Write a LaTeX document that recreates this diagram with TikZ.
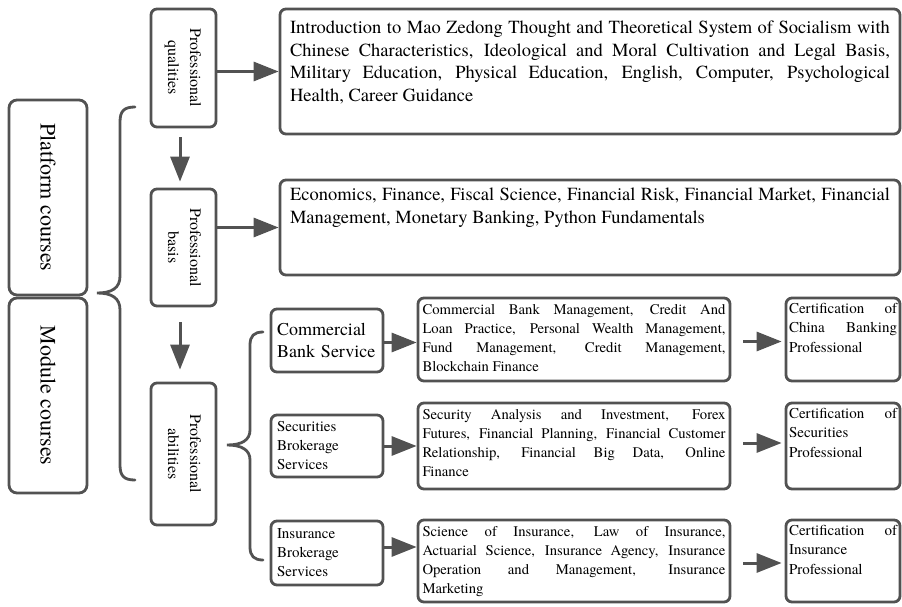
\documentclass[tikz,border=0pt]{standalone}
\usepackage{fontspec}
\setmainfont{TeX Gyre Termes}
\usepackage{tikz}
\usetikzlibrary{arrows.meta}
\definecolor{linegray}{RGB}{82,82,82}
\newcommand{\toptext}[3]{\parbox[c][#2][t]{#1}{#3}}

\begin{document}
\begin{tikzpicture}[x=1pt,y=-1pt,
	box/.style={draw=linegray, line width=2.8pt, rounded corners=6pt, inner sep=0pt},
	arr/.style={draw=linegray, line width=3pt, -{Triangle[length=25pt,width=19pt]}},
	brace/.style={draw=linegray, line width=2.8pt, line cap=round}]
			\useasboundingbox (0,0) rectangle (902,606);
			% left column
			\node[box, minimum width=78pt, minimum height=195pt, rounded corners=8pt,
				font=\fontsize{22}{26}\selectfont] (platform) at (48,197.5)
				{\rotatebox{-90}{Platform courses}};
			\node[box, minimum width=78pt, minimum height=195pt, rounded corners=8pt,
				font=\fontsize{22}{26}\selectfont] (module) at (48,395.5)
				{\rotatebox{-90}{Module courses}};
			% professional column
			\node[box, minimum width=65pt, minimum height=118pt,
				font=\fontsize{16}{22}\selectfont] (qual) at (183.5,68)
				{\rotatebox{-90}{\begin{tabular}{@{}c@{}}Professional\\qualities\end{tabular}}};
			\node[box, minimum width=65pt, minimum height=117pt,
				font=\fontsize{16}{22}\selectfont] (basis) at (183.5,247.5)
				{\rotatebox{-90}{\begin{tabular}{@{}c@{}}Professional\\basis\end{tabular}}};
			\node[box, minimum width=65pt, minimum height=142pt,
				font=\fontsize{16}{22}\selectfont] (abil) at (183.5,454)
				{\rotatebox{-90}{\begin{tabular}{@{}c@{}}Professional\\abilities\end{tabular}}};
			% course lists
			\node[box, inner xsep=10pt, inner ysep=12pt,
				font=\fontsize{18.5}{22.5}\selectfont] (intro) at (590,71.5)
				{\toptext{600pt}{101pt}{Introduction to Mao Zedong Thought and Theoretical System of Socialism with\linebreak
				Chinese Characteristics, Ideological and Moral Cultivation and Legal Basis,\linebreak
				Military Education, Physical Education, English, Computer, Psychological\linebreak
				Health, Career Guidance}};
			\node[box, inner xsep=10pt, inner ysep=8pt,
				font=\fontsize{18.5}{22.5}\selectfont] (fin) at (590,227.5)
				{\toptext{600pt}{79pt}{Economics, Finance, Fiscal Science, Financial Risk, Financial Market, Financial\linebreak
				Management, Monetary Banking, Python Fundamentals}};
			% modules
			\node[box, minimum width=112pt, minimum height=63pt, inner xsep=6pt,
				text width=100pt, align=left, font=\fontsize{18}{22}\selectfont] (comm) at (327,340.5)
				{Commercial\\Bank Service};
			\node[box, minimum width=112pt, minimum height=62pt, inner xsep=6pt,
				text width=100pt, align=left, font=\fontsize{15}{19}\selectfont] (sec) at (327,446)
				{Securities\\Brokerage\\Services};
			\node[box, minimum width=112pt, minimum height=64pt, inner xsep=6pt,
				text width=100pt, align=left, font=\fontsize{15}{19}\selectfont] (ins) at (327,553)
				{Insurance\\Brokerage\\Services};
			\node[box, inner xsep=4.5pt, inner ysep=6pt,
				font=\fontsize{14.7}{19}\selectfont] (bankc) at (574,339.5)
				{\toptext{303pt}{71pt}{Commercial Bank Management, Credit And\linebreak
				Loan Practice, Personal Wealth Management,\linebreak
				Fund Management, Credit Management,\linebreak
				Blockchain Finance}};
			\node[box, inner xsep=4.5pt, inner ysep=6pt,
				font=\fontsize{14.7}{19}\selectfont] (secc) at (574,446)
				{\toptext{303pt}{74pt}{Security Analysis and Investment, Forex\linebreak
				Futures, Financial Planning, Financial Customer\linebreak
				Relationship, Financial Big Data, Online\linebreak
				Finance}};
			\node[box, inner xsep=4.5pt, inner ysep=6pt,
				font=\fontsize{14.7}{19}\selectfont] (insc) at (574,561)
				{\toptext{303pt}{70pt}{Science of Insurance, Law of Insurance,\linebreak
				Actuarial Science, Insurance Agency, Insurance\linebreak
				Operation and Management, Insurance\linebreak
				Marketing}};
			% certificates
			\node[box, inner xsep=3pt, inner ysep=5pt,
				font=\fontsize{15}{19.5}\selectfont] (bankcert) at (843,339.5)
				{\toptext{108pt}{73pt}{Certification of\linebreak China Banking\linebreak Professional}};
			\node[box, inner xsep=3pt, inner ysep=5pt,
				font=\fontsize{15}{19.5}\selectfont] (seccert) at (843,446)
				{\toptext{108pt}{76pt}{Certification of\linebreak Securities\linebreak Professional}};
			\node[box, inner xsep=3pt, inner ysep=5pt,
				font=\fontsize{15}{19.5}\selectfont] (inscert) at (843,561)
				{\toptext{108pt}{72pt}{Certification of\linebreak Insurance\linebreak Professional}};
			% braces
			\draw[brace] (135,107) .. controls (124,107) and (120,111) .. (120,122) -- (120,276)
				.. controls (120,288) and (112,293) .. (97,293)
				.. controls (112,293) and (120,298) .. (120,310) -- (120,465)
				.. controls (120,476) and (124,480) .. (135,480);
			\draw[brace] (263,332) .. controls (254,332) and (250,336) .. (250,345) -- (250,430)
				.. controls (250,440) and (242,445) .. (227,445)
				.. controls (242,445) and (250,450) .. (250,460) -- (250,547)
				.. controls (250,556) and (254,560) .. (263,560);
			% arrows
			\draw[arr] (qual.east |- intro.west) -- (intro.west);
			\draw[arr] (basis.east |- fin.west) -- (fin.west);
			\draw[arr, shorten <=9pt, shorten >=6pt] ([xshift=-3.5pt]qual.south) -- ([xshift=-3.5pt]basis.north);
			\draw[arr, shorten <=15pt, shorten >=12pt] ([xshift=-3.5pt]basis.south) -- ([xshift=-3.5pt]abil.north);
			\draw[arr] ([yshift=-2pt]comm.east) -- ([yshift=-2pt]comm.east -| bankc.west);
			\draw[arr] (sec.east) -- (sec.east -| secc.west);
			\draw[arr] ([yshift=6pt]ins.east) -- ([yshift=6pt]ins.east -| insc.west);
			\draw[arr, shorten <=12pt, shorten >=3pt] ([yshift=-2pt]bankc.east) -- ([yshift=-2pt]bankc.east -| bankcert.west);
			\draw[arr, shorten <=12pt, shorten >=3pt] ([yshift=3pt]secc.east) -- ([yshift=3pt]secc.east -| seccert.west);
			\draw[arr, shorten <=12pt, shorten >=3pt] ([yshift=-2pt]insc.east) -- ([yshift=-2pt]insc.east -| inscert.west);
\end{tikzpicture}
\end{document}
